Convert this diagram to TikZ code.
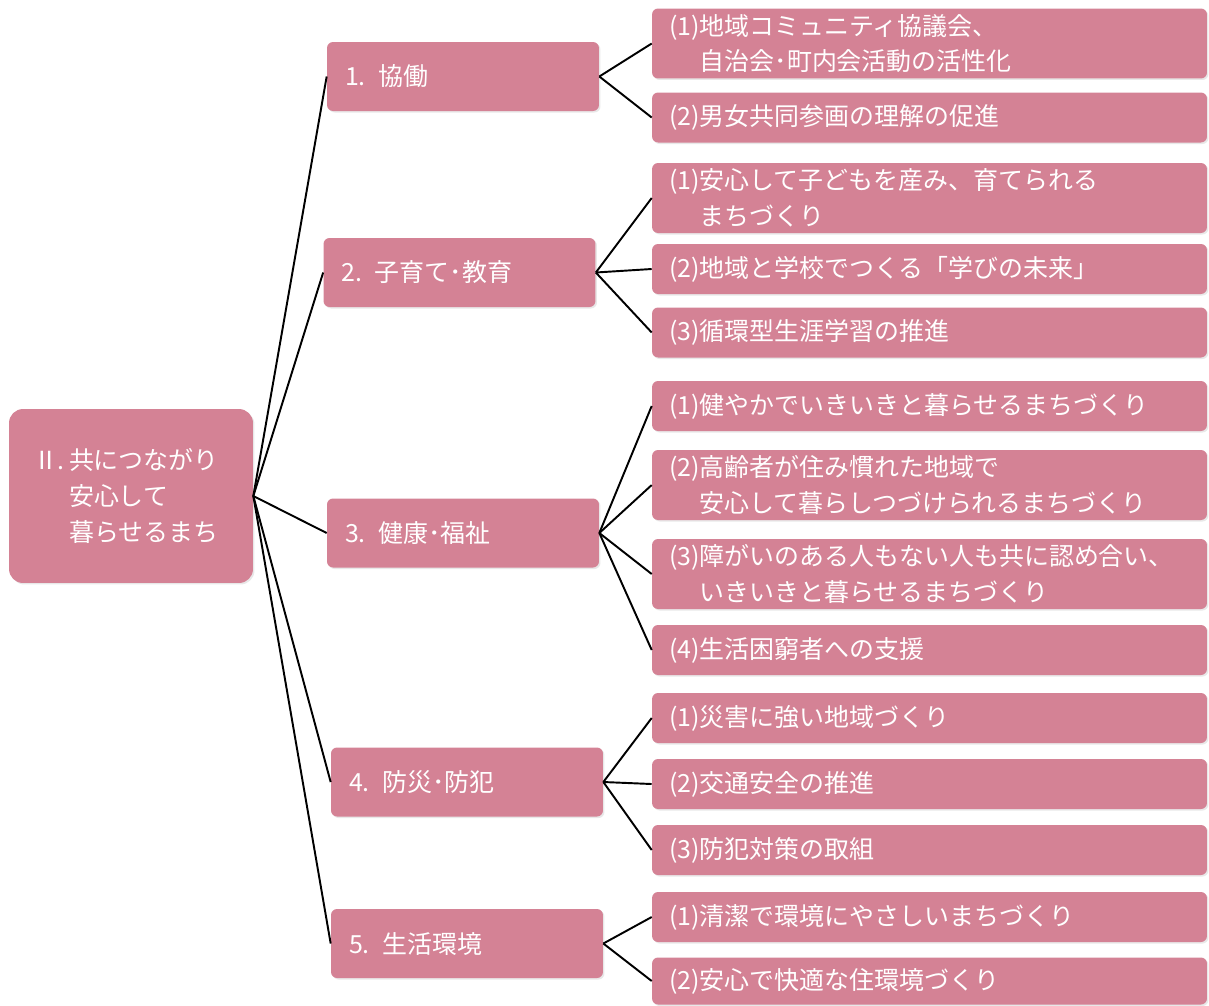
\documentclass[tikz,border=0pt]{standalone}
\usepackage{fontspec}
\newfontfamily\jpfont{Noto Sans CJK JP}
\usepackage{tikz}
\usetikzlibrary{shadows}
\definecolor{boxpink}{RGB}{212,130,149}
\newcommand\skipnum[1]{\hphantom{#1}}
\tikzset{
	pinkbox/.style={rectangle, fill=boxpink, text=white, align=left, inner ysep=0pt,
		font=\jpfont\fontsize{14.2pt}{20.4pt}\selectfont,
		drop shadow={opacity=0.18, shadow xshift=0.03cm, shadow yshift=-0.03cm}},
	rootbox/.style={pinkbox, rounded corners=0.28cm, minimum width=4.88cm, minimum height=3.48cm, text width=3.92cm, inner xsep=0.48cm},
	topic/.style={pinkbox, rounded corners=0.12cm, minimum width=5.44cm, minimum height=1.38cm, text width=4.72cm, inner xsep=0.36cm},
	subbox/.style={pinkbox, rounded corners=0.12cm, minimum width=11.1cm, minimum height=1.0cm, text width=10.42cm, inner xsep=0.34cm},
	subboxtwo/.style={subbox, minimum height=1.4cm},
	link/.style={line width=1.1pt, color=black}
}

\begin{document}
\begin{tikzpicture}[x=0.02cm, y=-0.02cm]
		%%%%% START %%%%%
		
		\useasboundingbox (0, 0) rectangle (1209, 1005);
		
		\node[rootbox] (root) at (131, 496) {Ⅱ.\,共につながり\\\skipnum{Ⅱ.\,}安心して\\\skipnum{Ⅱ.\,}暮らせるまち};
		
		\node[topic] (t1) at (463, 76.5) {1. 協働};
		\node[topic] (t2) at (459.5, 272.5) {2. 子育て･教育};
		\node[topic] (t3) at (463, 533) {3. 健康･福祉};
		\node[topic] (t4) at (467, 782) {4. 防災･防犯};
		\node[topic] (t5) at (467, 943.5) {5. 生活環境};
		
		\node[subboxtwo] (s11) at (929.5, 43.5) {(1)地域コミュニティ協議会、\\\skipnum{(1)}自治会･町内会活動の活性化};
		\node[subbox] (s12) at (929.5, 117.5) {(2)男女共同参画の理解の促進};
		
		\node[subboxtwo] (s21) at (929.5, 198) {(1)安心して子どもを産み、育てられる\\\skipnum{(1)}まちづくり};
		\node[subbox] (s22) at (929.5, 269) {(2)地域と学校でつくる「学びの未来」};
		\node[subbox] (s23) at (929.5, 332.5) {(3)循環型生涯学習の推進};
		
		\node[subbox] (s31) at (929.5, 406) {(1)健やかでいきいきと暮らせるまちづくり};
		\node[subboxtwo] (s32) at (929.5, 485) {(2)高齢者が住み慣れた地域で\\\skipnum{(2)}安心して暮らしつづけられるまちづくり};
		\node[subboxtwo] (s33) at (929.5, 574) {(3)障がいのある人もない人も共に認め合い、\\\skipnum{(3)}いきいきと暮らせるまちづくり};
		\node[subbox] (s34) at (929.5, 650) {(4)生活困窮者への支援};
		
		\node[subbox] (s41) at (929.5, 718) {(1)災害に強い地域づくり};
		\node[subbox] (s42) at (929.5, 784) {(2)交通安全の推進};
		\node[subbox] (s43) at (929.5, 850) {(3)防犯対策の取組};
		
		\node[subbox] (s51) at (929.5, 917) {(1)清潔で環境にやさしいまちづくり};
		\node[subbox, minimum height=0.94cm] (s52) at (929.5, 981) {(2)安心で快適な住環境づくり};
		
		\draw[link] (root.east) -- (t1.west);
		\draw[link] (root.east) -- (t2.west);
		\draw[link] (root.east) -- (t3.west);
		\draw[link] (root.east) -- (t4.west);
		\draw[link] (root.east) -- (t5.west);
		
		\draw[link] (t1.east) -- (s11.west);
		\draw[link] (t1.east) -- (s12.west);
		\draw[link] (t2.east) -- (s21.west);
		\draw[link] (t2.east) -- (s22.west);
		\draw[link] (t2.east) -- (s23.west);
		\draw[link] (t3.east) -- (s31.west);
		\draw[link] (t3.east) -- (s32.west);
		\draw[link] (t3.east) -- (s33.west);
		\draw[link] (t3.east) -- (s34.west);
		\draw[link] (t4.east) -- (s41.west);
		\draw[link] (t4.east) -- (s42.west);
		\draw[link] (t4.east) -- (s43.west);
		\draw[link] (t5.east) -- (s51.west);
		\draw[link] (t5.east) -- (s52.west);
		
		%%%%% END %%%%%
\end{tikzpicture}
\end{document}
